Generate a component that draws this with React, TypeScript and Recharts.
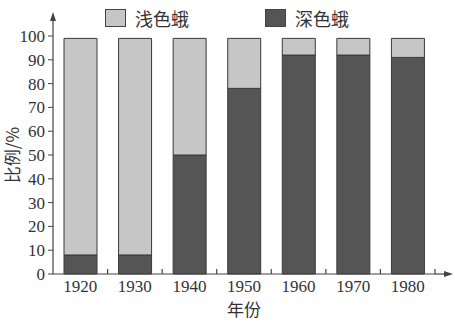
import * as React from 'react'
import { Bar, BarChart, XAxis, YAxis } from 'recharts'

const years = ['1920', '1930', '1940', '1950', '1960', '1970', '1980']
const darkMoth = [8, 8, 50, 78, 92, 92, 91]
const lightMoth = [91, 91, 49, 21, 7, 7, 8]
const yTicks = [0, 10, 20, 30, 40, 50, 60, 70, 80, 90, 100]
const seriesNames = ['浅色蛾', '深色蛾']
const seriesColors = ['#c6c6c6', '#555555']

const data = years.map((year, i) => ({ year, dark: darkMoth[i], light: lightMoth[i] }))

const W = 455
const H = 328
const margin = { top: 36, right: 20, left: 0, bottom: 24 }
const yAxisW = 53
const xAxisH = 30
const axisColor = '#444'
const numFont = '"Liberation Serif", "DejaVu Serif", serif'
const cjkFont = '"Noto Sans CJK SC", sans-serif'
const numStyle = { fontFamily: numFont, fontSize: 17, fill: '#333' }

export default function App() {
  const x0 = margin.left + yAxisW
  const x1 = W - margin.right
  const y0 = H - margin.bottom - xAxisH
  const band = (x1 - x0) / years.length

  return (
    <div style={{ position: 'absolute', left: 0, top: 0, width: W, height: H, background: '#fff' }}>
      <BarChart width={W} height={H} data={data} margin={margin} barSize={33}>
        <XAxis
          dataKey="year"
          height={xAxisH}
          tickLine={false}
          tickSize={0}
          tickMargin={6}
          axisLine={{ stroke: axisColor, strokeWidth: 1.2 }}
          tick={{ ...numStyle, style: numStyle }}
          label={{
            value: '年份',
            position: 'bottom',
            offset: 0,
            style: { fontSize: 17, fill: '#333', fontFamily: cjkFont },
          }}
        />
        <YAxis
          width={yAxisW}
          domain={[0, 100]}
          ticks={yTicks}
          interval={0}
          tickSize={5}
          tickMargin={3}
          axisLine={{ stroke: axisColor, strokeWidth: 1.2 }}
          tickLine={{ stroke: axisColor }}
          tick={{ ...numStyle, style: numStyle }}
          label={{
            value: '比例/%',
            angle: -90,
            position: 'insideLeft',
            offset: 13,
            style: { fontSize: 17, fill: '#333', fontFamily: cjkFont, textAnchor: 'middle' },
          }}
        />
        <Bar dataKey="dark" name={seriesNames[1]} stackId="a" fill={seriesColors[1]} stroke="#3a3a3a" isAnimationActive={false} />
        <Bar dataKey="light" name={seriesNames[0]} stackId="a" fill={seriesColors[0]} stroke="#3a3a3a" isAnimationActive={false} />
      </BarChart>

      {/* axis arrows and category boundary ticks */}
      <svg
        width={W}
        height={H}
        viewBox={`0 0 ${W} ${H}`}
        style={{ position: 'absolute', left: 0, top: 0, zIndex: 5, pointerEvents: 'none', overflow: 'visible' }}
      >
        <line x1={x0} y1={margin.top} x2={x0} y2={16} stroke={axisColor} strokeWidth={1.2} />
        <path d={`M${x0 - 3},${21} L${x0},${12} L${x0 + 3},${21} Z`} fill={axisColor} />
        <line x1={x1} y1={y0} x2={W - 6} y2={y0} stroke={axisColor} strokeWidth={1.2} />
        <path d={`M${W - 11},${y0 - 3} L${W - 2},${y0} L${W - 11},${y0 + 3} Z`} fill={axisColor} />
        {years.map((y, i) => (
          <line key={y} x1={x0 + band * (i + 1)} y1={y0} x2={x0 + band * (i + 1)} y2={y0 - 5} stroke={axisColor} strokeWidth={1.2} />
        ))}
      </svg>

      {/* legend */}
      <div style={{ position: 'absolute', left: 105, top: 5, display: 'flex', gap: 76, fontFamily: cjkFont, fontSize: 18, color: '#333' }}>
        {seriesNames.map((n, i) => (
          <div key={n} style={{ display: 'flex', alignItems: 'center' }}>
            <span
              style={{
                display: 'inline-block',
                width: 19,
                height: 16,
                background: seriesColors[i],
                border: '1px solid #444',
                marginRight: 9,
              }}
            />
            {n}
          </div>
        ))}
      </div>
    </div>
  )
}
